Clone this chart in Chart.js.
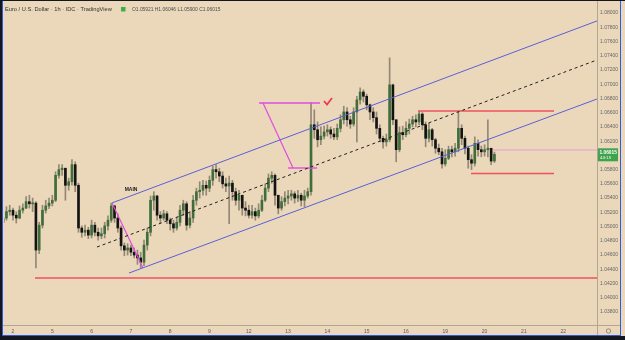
<!DOCTYPE html>
<html><head><meta charset="utf-8">
<script src="https://cdn.jsdelivr.net/npm/chart.js@4.4.1/dist/chart.umd.min.js"></script>
<style>
html,body{margin:0;padding:0;background:#ebd8bb;overflow:hidden;}
canvas{display:block;}
</style></head>
<body>
<canvas id="c" width="625" height="340"></canvas>
<script>
// ---- data (EUR/USD, 2-hour candles) ----
const dayLabels = ["2","5","6","7","8","9","12","13","14","15","16","19","20","21","22"];
const dayTicks = [0,1,2,3,4,5,6,7,8,9,10,11,12,13,14];
const priceTicks = [1.038,1.040,1.042,1.044,1.046,1.048,1.050,1.052,1.054,1.056,1.058,1.060,1.062,1.064,1.066,1.068,1.070,1.072,1.074,1.076,1.078,1.080];
const firstBarHour = -6, barHours = 2;

const opens = [1.0506,1.0512,1.0521,1.0523,1.0516,1.0512,1.0523,1.0526,1.0535,1.0532,
1.0533,1.0467,1.0502,1.0523,1.0529,1.0533,1.0537,1.0572,1.0580,1.0582,
1.0558,1.0563,1.0587,1.0558,1.0498,1.0492,1.0495,1.0488,1.0502,1.0492,
1.0487,1.0490,1.0501,1.0509,1.0529,1.0512,1.0498,1.0473,1.0467,1.0470,
1.0464,1.0460,1.0456,1.0450,1.0474,1.0492,1.0537,1.0543,1.0516,1.0512,
1.0518,1.0509,1.0504,1.0498,1.0506,1.0523,1.0532,1.0502,1.0512,1.0537,
1.0549,1.0551,1.0558,1.0554,1.0565,1.0580,1.0577,1.0571,1.0560,1.0557,
1.0561,1.0549,1.0537,1.0544,1.0526,1.0523,1.0516,1.0521,1.0515,1.0523,
1.0537,1.0554,1.0568,1.0572,1.0544,1.0526,1.0535,1.0540,1.0543,1.0546,
1.0540,1.0544,1.0537,1.0543,1.0549,1.0643,1.0636,1.0622,1.0627,1.0633,
1.0636,1.0630,1.0626,1.0638,1.0650,1.0661,1.0650,1.0644,1.0661,1.0678,
1.0689,1.0683,1.0671,1.0661,1.0653,1.0638,1.0624,1.0619,1.0622,1.0699,
1.0650,1.0608,1.0632,1.0629,1.0638,1.0644,1.0650,1.0647,1.0658,1.0643,
1.0624,1.0636,1.0622,1.0610,1.0605,1.0588,1.0596,1.0608,1.0605,1.0610,
1.0638,1.0624,1.0610,1.0594,1.0589,1.0617,1.0608,1.0605,1.0608,1.0610,
1.05921];
const highs = [1.0519,1.0528,1.0530,1.0526,1.0521,1.0529,1.0532,1.0542,1.0544,1.0540,
1.0535,1.0506,1.0530,1.0537,1.0540,1.0544,1.0577,1.0587,1.0587,1.0582,
1.0568,1.0594,1.0591,1.0561,1.0501,1.0502,1.0499,1.0509,1.0506,1.0498,
1.0498,1.0506,1.0515,1.0533,1.0530,1.0518,1.0501,1.0477,1.0476,1.0474,
1.0470,1.0467,1.0464,1.0481,1.0498,1.0543,1.0549,1.0544,1.0521,1.0523,
1.0521,1.0512,1.0509,1.0513,1.0530,1.0537,1.0535,1.0521,1.0544,1.0554,
1.0563,1.0565,1.0564,1.0571,1.0585,1.0587,1.0582,1.0577,1.0568,1.0571,
1.0565,1.0554,1.0551,1.0544,1.0535,1.0530,1.0530,1.0526,1.0532,1.0544,
1.0560,1.0574,1.0577,1.0574,1.0544,1.0542,1.0549,1.0551,1.0551,1.0549,
1.0551,1.0547,1.0551,1.0554,1.0674,1.0664,1.0647,1.0640,1.0641,1.0643,
1.0640,1.0638,1.0644,1.0657,1.0669,1.0667,1.0655,1.0667,1.0683,1.0695,
1.0692,1.0686,1.0672,1.0667,1.0661,1.0643,1.0627,1.0630,1.0737,1.0700,
1.0650,1.0640,1.0641,1.0647,1.0651,1.0655,1.0657,1.0662,1.0660,1.0647,
1.0645,1.0638,1.0624,1.0616,1.0610,1.0608,1.0613,1.0613,1.0617,1.0661,
1.0643,1.0627,1.0613,1.0601,1.0626,1.0622,1.0613,1.0615,1.0650,1.0610,
1.06046];
const lows = [1.0498,1.0509,1.0516,1.0509,1.0505,1.0511,1.0519,1.0525,1.0526,1.0521,
1.0442,1.0462,1.0498,1.0519,1.0525,1.0529,1.0535,1.0568,1.0572,1.0537,
1.0551,1.0558,1.0549,1.0492,1.0485,1.0487,1.0483,1.0484,1.0487,1.0481,
1.0483,1.0484,1.0495,1.0506,1.0506,1.0492,1.0467,1.0459,1.0460,1.0459,
1.0456,1.0447,1.0442,1.0445,1.0467,1.0487,1.0523,1.0509,1.0505,1.0509,
1.0504,1.0495,1.0492,1.0495,1.0501,1.0516,1.0495,1.0498,1.0506,1.0530,
1.0540,1.0544,1.0544,1.0549,1.0558,1.0568,1.0563,1.0554,1.0549,1.0504,
1.0537,1.0530,1.0523,1.0516,1.0515,1.0512,1.0512,1.0509,1.0512,1.0521,
1.0535,1.0549,1.0561,1.0530,1.0518,1.0523,1.0529,1.0532,1.0537,1.0533,
1.0535,1.0529,1.0528,1.0540,1.0544,1.0624,1.0612,1.0615,1.0623,1.0627,
1.0624,1.0622,1.0622,1.0633,1.0644,1.0641,1.0638,1.0641,1.0619,1.0672,
1.0675,1.0664,1.0650,1.0647,1.0630,1.0619,1.0610,1.0613,1.0619,1.0643,
1.0591,1.0605,1.0622,1.0626,1.0630,1.0640,1.0640,1.0643,1.0636,1.0612,
1.0619,1.0613,1.0603,1.0601,1.0582,1.0585,1.0594,1.0598,1.0599,1.0605,
1.0615,1.0602,1.0582,1.0580,1.0585,1.0599,1.0598,1.0599,1.0598,1.0587,
1.05900];
const closes = [1.0512,1.0521,1.0523,1.0516,1.0512,1.0523,1.0526,1.0535,1.0532,1.0533,
1.0467,1.0502,1.0523,1.0529,1.0533,1.0537,1.0572,1.0580,1.0582,1.0558,
1.0563,1.0587,1.0558,1.0498,1.0492,1.0495,1.0488,1.0502,1.0492,1.0487,
1.0490,1.0501,1.0509,1.0529,1.0512,1.0498,1.0473,1.0467,1.0470,1.0464,
1.0460,1.0456,1.0450,1.0474,1.0492,1.0537,1.0543,1.0516,1.0512,1.0518,
1.0509,1.0504,1.0498,1.0506,1.0523,1.0532,1.0502,1.0512,1.0537,1.0549,
1.0551,1.0558,1.0554,1.0565,1.0580,1.0577,1.0571,1.0560,1.0557,1.0561,
1.0549,1.0537,1.0544,1.0526,1.0523,1.0516,1.0521,1.0515,1.0523,1.0537,
1.0554,1.0568,1.0572,1.0544,1.0526,1.0535,1.0540,1.0543,1.0546,1.0540,
1.0544,1.0537,1.0543,1.0549,1.0643,1.0636,1.0622,1.0627,1.0633,1.0636,
1.0630,1.0626,1.0638,1.0650,1.0661,1.0650,1.0644,1.0661,1.0678,1.0689,
1.0683,1.0671,1.0661,1.0653,1.0638,1.0624,1.0619,1.0622,1.0699,1.0650,
1.0608,1.0632,1.0629,1.0638,1.0644,1.0650,1.0647,1.0658,1.0643,1.0624,
1.0636,1.0622,1.0610,1.0605,1.0588,1.0596,1.0608,1.0605,1.0610,1.0638,
1.0624,1.0610,1.0594,1.0589,1.0617,1.0608,1.0605,1.0608,1.0610,1.0592,
1.06015];

// drawings (x in trading days from day "2", y in price)
const upperChannel = [{x:2.519,y:1.05332},{x:14.86,y:1.07888}];
const lowerChannel = [{x:2.952,y:1.04348},{x:14.86,y:1.06792}];
const midChannel   = [{x:2.137,y:1.04713},{x:14.86,y:1.07340}];
const mainSwing    = [{x:2.519,y:1.05332},{x:3.308,y:1.04418}];
const flagTop      = [{x:6.260,y:1.06736},{x:7.812,y:1.06736}];
const flagDiag     = [{x:6.361,y:1.06736},{x:7.125,y:1.05823}];
const flagBottom   = [{x:6.997,y:1.05823},{x:7.735,y:1.05823}];
const supportLine  = [{x:0.560,y:1.04278},{x:14.86,y:1.04278}];
const rangeHigh    = [{x:10.305,y:1.06624},{x:13.766,y:1.06624}];
const rangeLow     = [{x:11.654,y:1.05746},{x:13.766,y:1.05746}];
const priceLine    = [{x:12.214,y:1.06076},{x:14.86,y:1.06076}];
const checkMark    = [{x:7.913,y:1.06764},{x:7.990,y:1.06715},{x:8.117,y:1.06806}];
const mainLabel = {text:"MAIN", x:3.003, y:1.05514};
const titleText = "Euro / U.S. Dollar · 1h · IDC · TradingView";
const ohlcText = "O1.05921 H1.06046 L1.05900 C1.06015";
const lastPriceText = "1.06015", countdownText = "44:13";

// ---- build ----
const times = closes.map((_, i) => (firstBarHour + i * barHours) / 24);
const upColor = '#3f6e3a', downColor = '#141414';
const bodyColors = closes.map((c, i) => c >= opens[i] ? upColor : downColor);

function lineDs(data, color, width, dash) {
  return {type:'line', data, borderColor:color, borderWidth:width, borderDash:dash||[],
    pointRadius:0, fill:false, tension:0, order:0, borderCapStyle:'butt'};
}

const frame = {
  id:'frame',
  beforeDraw(chart){
    const {ctx,width,height} = chart;
    ctx.save(); ctx.fillStyle='#ebd8bb'; ctx.fillRect(0,0,width,height); ctx.restore();
  },
  afterDraw(chart){
    const {ctx, chartArea:a, scales:{x,y}} = chart;
    ctx.save();
    // axis separators
    ctx.fillStyle='#b3a58e';
    ctx.fillRect(Math.round(a.right), 1, 1, 334);
    ctx.fillRect(3, Math.round(a.bottom), 617, 1);
    // MAIN label
    ctx.font='bold 5px "Liberation Sans", Arial, sans-serif';
    ctx.fillStyle='#1e1e1e'; ctx.textAlign='center'; ctx.textBaseline='middle';
    ctx.fillText(mainLabel.text, x.getPixelForValue(mainLabel.x), y.getPixelForValue(mainLabel.y));
    // last price box
    const py = y.getPixelForValue(closes[closes.length-1]);
    ctx.fillStyle='#3fa34d';
    ctx.fillRect(a.right+1, py-6, 20, 13);
    ctx.fillStyle='#ffffff'; ctx.textAlign='left';
    ctx.font='bold 4.8px "Liberation Sans", Arial, sans-serif';
    ctx.fillText(lastPriceText, a.right+2.5, py-2);
    ctx.font='4.4px "Liberation Sans", Arial, sans-serif';
    ctx.fillText(countdownText, a.right+3, py+3.3);
    // title
    ctx.textBaseline='middle';
    ctx.fillStyle='#333333';
    ctx.font='5.7px "Liberation Sans", Arial, sans-serif';
    ctx.fillText(titleText, 5, 9.5);
    ctx.fillStyle='#3cb043'; ctx.fillRect(121, 7, 4.5, 4.5);
    ctx.fillStyle='#4a4a4a';
    ctx.font='4.9px "Liberation Sans", Arial, sans-serif';
    ctx.fillText(ohlcText, 132, 9.5);
    // settings icon
    ctx.strokeStyle='#7a7a7a'; ctx.lineWidth=0.8;
    ctx.beginPath(); ctx.arc(608.5, 331, 2.2, 0, Math.PI*2); ctx.stroke();
    // window frame
    ctx.fillStyle='#131722';
    ctx.fillRect(0,0,625,1); ctx.fillRect(0,0,2,340); ctx.fillRect(0,336,625,4);
    ctx.fillStyle='#2f5be0';
    ctx.fillRect(2,1,1,335); ctx.fillRect(2,335,619,1); ctx.fillRect(620,1,1,335);
    ctx.restore();
  }
};

new Chart(document.getElementById('c'), {
  type:'bar',
  data:{datasets:[
    lineDs(checkMark,'#ef3b4f',1.8),
    lineDs(priceLine,'#e39be3',1),
    lineDs(upperChannel,'#5b5fd6',1),
    lineDs(lowerChannel,'#5b5fd6',1),
    lineDs(midChannel,'#1f1f1f',1,[3,3]),
    lineDs(mainSwing,'#df4de0',1.2),
    lineDs(flagTop,'#df4de0',1.4),
    lineDs(flagDiag,'#df4de0',1.2),
    lineDs(flagBottom,'#df4de0',1.4),
    lineDs(supportLine,'#f0505c',1.5),
    lineDs(rangeHigh,'#f0505c',1.5),
    lineDs(rangeLow,'#f0505c',1.5),
    {type:'bar', data: times.map((t,i)=>({x:t, y:[opens[i], closes[i]]})),
      backgroundColor: bodyColors, barThickness:2, grouped:false, minBarLength:1,
      borderWidth:0, order:10},
    {type:'bar', data: times.map((t,i)=>({x:t, y:[lows[i], highs[i]]})),
      backgroundColor:'rgba(110,102,88,0.7)', barThickness:1, grouped:false,
      borderWidth:0, order:11}
  ]},
  options:{
    responsive:false, animation:false, devicePixelRatio:1,
    layout:{padding:{left:4, top:2, right:0, bottom:0}},
    plugins:{legend:{display:false}, tooltip:{enabled:false}},
    scales:{
      x:{type:'linear', min:-0.229, max:14.86, offset:false,
        grid:{display:false, drawTicks:false}, border:{display:false},
        afterBuildTicks(s){ s.ticks = dayTicks.map(v=>({value:v})); },
        afterFit(s){ s.height = 15; s.paddingLeft = 0; s.paddingRight = 0; },
        ticks:{autoSkip:false, maxRotation:0, padding:3.5, color:'#5a5a5a',
          font:{size:5, family:'"Liberation Sans", Arial, sans-serif'},
          callback:(v,i)=>dayLabels[i]}},
      y:{type:'linear', position:'right', min:1.03618, max:1.08154,
        grid:{display:false, drawTicks:false}, border:{display:false},
        afterBuildTicks(s){ s.ticks = priceTicks.map(v=>({value:v})); },
        afterFit(s){ s.width = 28; s.paddingTop = 0; s.paddingBottom = 0; },
        ticks:{padding:3, color:'#666', font:{size:5, family:'"Liberation Sans", Arial, sans-serif'},
          callback:v=>v.toFixed(5)}}
    }
  },
  plugins:[frame]
});
</script>
</body></html>
